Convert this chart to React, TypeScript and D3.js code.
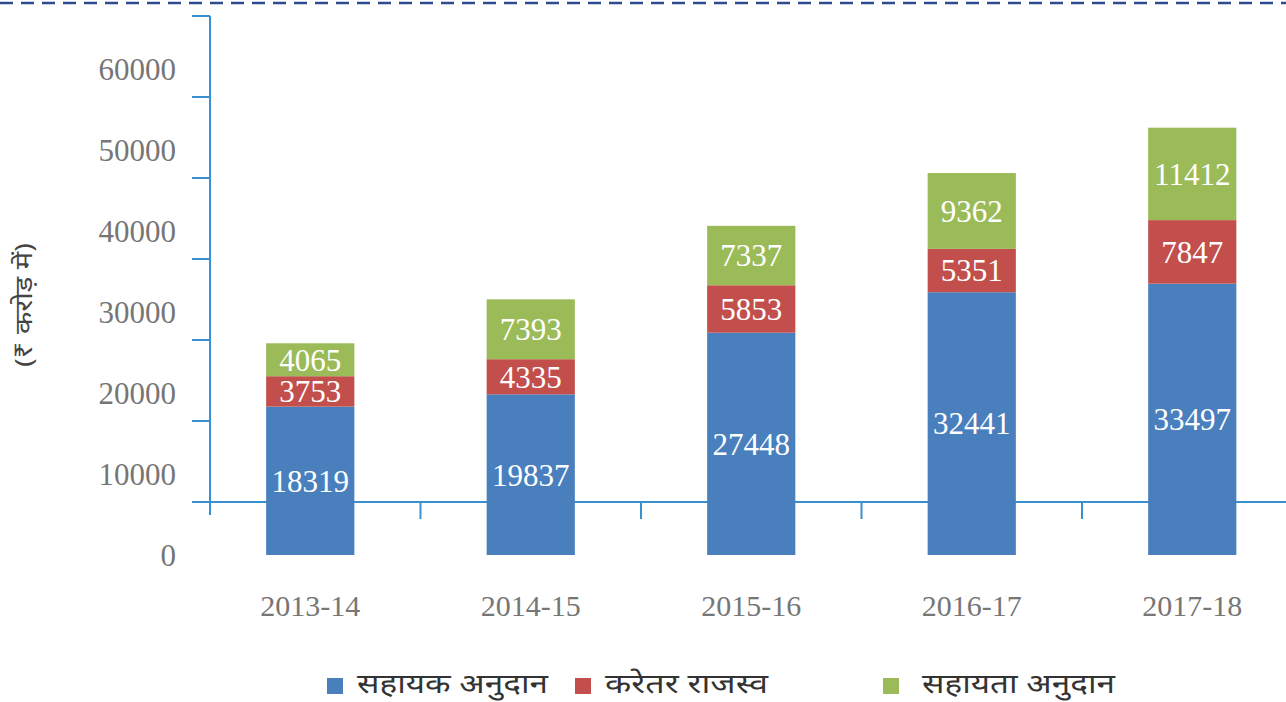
import React from "react";
import * as d3 from "d3";

const categories = ["2013-14", "2014-15", "2015-16", "2016-17", "2017-18"];
const seriesNames = ["सहायक अनुदान", "करेतर राजस्व", "सहायता अनुदान"];
const sahayakAnudan = [18319, 19837, 27448, 32441, 33497];
const karetarRajasva = [3753, 4335, 5853, 5351, 7847];
const sahayataAnudan = [4065, 7393, 7337, 9362, 11412];
const yTicks = [0, 10000, 20000, 30000, 40000, 50000, 60000];
const colors = ["#4A7FBE", "#C24F4C", "#9BBB59"];

const W = 1286;
const H = 702;

export default function App() {
  const x = d3
    .scaleBand<string>()
    .domain(categories)
    .range([200, 1302.5])
    .paddingInner(0.6)
    .paddingOuter(0.3);
  const y = d3.scaleLinear().domain([0, 60000]).range([555, 69]);
  const axisShift = -53;
  const axisColor = "#3A8FCE";
  const series = [sahayakAnudan, karetarRajasva, sahayataAnudan];
  const rows = categories.map((c, i) => ({
    cat: c,
    s0: series[0][i],
    s1: series[1][i],
    s2: series[2][i],
  }));
  const stack = d3.stack<any>().keys(["s0", "s1", "s2"]);
  const stacked = stack(rows);
  const serif = "'Liberation Serif', 'DejaVu Serif', serif";
  const x0Axis = y(0) + axisShift;
  const bounds = categories.slice(1).map((c) => (x(c) as number) - (x.step() * x.paddingInner()) / 2);
  const legendItems = [
    { sx: 327, tx: 357, tl: 191 },
    { sx: 575, tx: 605, tl: 163 },
    { sx: 883, tx: 922, tl: 193 },
  ];
  return (
    <svg width={W} height={H} style={{ display: "block", position: "absolute", left: 0, top: 0 }}>
      <rect width={W} height={H} fill="#ffffff" />
      <line x1={0} x2={W} y1={3} y2={3} stroke="#2F4B8F" strokeWidth={2.5} strokeDasharray="13 8" />
      {/* y axis */}
      <line x1={210} x2={210} y1={y(60000) + axisShift} y2={x0Axis + 13} stroke={axisColor} strokeWidth={2} />
      {yTicks.slice(1).map((t) => (
        <line key={t} x1={192} x2={210} y1={y(t) + axisShift} y2={y(t) + axisShift} stroke={axisColor} strokeWidth={2} />
      ))}
      {yTicks.map((t) => (
        <text key={t} x={176} y={y(t)} dy="0.35em" textAnchor="end" fontFamily={serif} fontSize={31} fill="#767676">
          {t}
        </text>
      ))}
      {/* x axis */}
      <line x1={192} x2={W} y1={x0Axis} y2={x0Axis} stroke={axisColor} strokeWidth={2} />
      {bounds.map((b, i) => (
        <line key={i} x1={b} x2={b} y1={x0Axis} y2={x0Axis + 17} stroke={axisColor} strokeWidth={2} />
      ))}
      {/* bars */}
      {stacked.map((layer, si) =>
        layer.map((d, i) => {
          const bx = x(categories[i]) as number;
          const top = y(d[1]);
          const bot = y(d[0]);
          return (
            <g key={`${si}-${i}`}>
              <rect x={bx} y={top} width={x.bandwidth()} height={bot - top} fill={colors[si]} />
              <text
                x={bx + x.bandwidth() / 2}
                y={(top + bot) / 2}
                dy="0.35em"
                textAnchor="middle"
                fontFamily={serif}
                fontSize={31}
                fill="#ffffff"
              >
                {series[si][i]}
              </text>
            </g>
          );
        })
      )}
      {categories.map((c) => (
        <text
          key={c}
          x={(x(c) as number) + x.bandwidth() / 2}
          y={605}
          dy="0.35em"
          textAnchor="middle"
          fontFamily={serif}
          fontSize={30}
          fill="#767676"
        >
          {c}
        </text>
      ))}
      <text
        transform="translate(24,305) rotate(-90)"
        textAnchor="middle"
        dy="0.35em"
        fontFamily="'Noto Sans', sans-serif"
        fontSize={24}
        textLength={124}
        lengthAdjust="spacingAndGlyphs"
        fill="#444"
      >
        (₹ करोड़ में)
      </text>
      {seriesNames.map((n, i) => (
        <g key={n}>
          <rect x={legendItems[i].sx} y={678} width={16} height={16} fill={colors[i]} />
          <text
            x={legendItems[i].tx}
            y={693}
            fontFamily="'Noto Sans', sans-serif"
            fontSize={27}
            textLength={legendItems[i].tl}
            lengthAdjust="spacingAndGlyphs"
            fill="#333"
          >
            {n}
          </text>
        </g>
      ))}
    </svg>
  );
}
